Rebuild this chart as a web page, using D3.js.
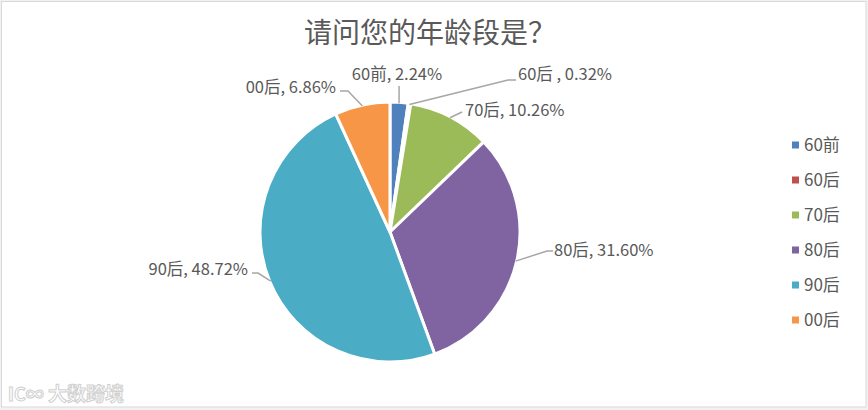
<!DOCTYPE html>
<html>
<head>
<meta charset="utf-8">
<script src="https://cdn.jsdelivr.net/npm/d3@7"></script>
<style>
  html, body { margin: 0; padding: 0; background: #f2f2f2; }
  svg { display: block; }
  text { font-family: "Noto Sans CJK SC", "Open Sans", sans-serif; fill: #595959; }
</style>
</head>
<body>
<svg id="chart" width="868" height="410"></svg>
<script>
// Age-group share of respondents
const categories = ["60前", "60后", "70后", "80后", "90后", "00后"];
const shares = [2.24, 0.32, 10.26, 31.60, 48.72, 6.86];
const labelTexts = ["60前, 2.24%", "60后 , 0.32%", "70后, 10.26%", "80后, 31.60%", "90后, 48.72%", "00后, 6.86%"];
const colors = ["#4F81BD", "#C0504D", "#9BBB59", "#8064A2", "#4BACC6", "#F79646"];
const title = "请问您的年龄段是？";

const svg = d3.select("#chart");
const W = 868, H = 410;

// Frame
svg.append("rect").attr("x", 1.5).attr("y", 1.5).attr("width", W - 3.5).attr("height", H - 4.5)
  .attr("fill", "#ffffff").attr("stroke", "#d9d9d9").attr("stroke-width", 1);

svg.append("text").attr("x", 430).attr("y", 43).attr("text-anchor", "middle")
  .style("font-size", "28px").text(title);

const cx = 390, cy = 232, R = 130;
const data = categories.map((c, i) => ({ name: c, value: shares[i], label: labelTexts[i], color: colors[i] }));

const pie = d3.pie().value(d => d.value).sort(null);
const arcs = pie(data);
const arc = d3.arc().innerRadius(0).outerRadius(R);

const g = svg.append("g").attr("transform", `translate(${cx},${cy})`);
g.selectAll("path.slice").data(arcs).join("path")
  .attr("class", "slice")
  .attr("d", arc)
  .attr("fill", d => d.data.color)
  .attr("stroke", "#ffffff")
  .attr("stroke-width", 3)
  .attr("stroke-linejoin", "round");

// Data-label placement: anchor, position and leader elbow for each slice
const labelLayout = [
  { x: 397, y: 80, anchor: "middle", elbow: null, end: [0, -146] },
  { x: 518, y: 80, anchor: "start", elbow: [118, -152], end: [126, -152] },
  { x: 465, y: 116, anchor: "start", elbow: null, end: [72, -120] },
  { x: 554, y: 256, anchor: "start", elbow: [157, 19], end: [163, 19] },
  { x: 248, y: 275, anchor: "end", elbow: [-132, 41], end: [-138, 41] },
  { x: 336, y: 93, anchor: "end", elbow: [-42, -141], end: [-50, -141] }
];

const pointOnRim = (d, r) => {
  const a = (d.startAngle + d.endAngle) / 2;
  return [r * Math.sin(a), -r * Math.cos(a)];
};

arcs.forEach((d, i) => {
  const L = labelLayout[i];
  const p0 = pointOnRim(d, R - 1);
  let pts;
  if (i === 0) pts = [p0, [p0[0], L.end[1]]];
  else if (L.elbow) pts = [p0, L.elbow, L.end];
  else pts = [p0, L.end];
  g.append("path")
    .attr("d", d3.line()(pts))
    .attr("fill", "none")
    .attr("stroke", "#a6a6a6")
    .attr("stroke-width", 1.5);
  svg.append("text")
    .attr("x", L.x).attr("y", L.y)
    .attr("text-anchor", L.anchor)
    .style("font-size", "16.5px")
    .text(d.data.label);
});

// Legend
const legend = svg.append("g").attr("transform", "translate(792,145)");
const items = legend.selectAll("g").data(data).join("g")
  .attr("transform", (d, i) => `translate(0,${i * 35})`);
items.append("rect").attr("x", 0).attr("y", -3.5).attr("width", 7).attr("height", 7).attr("fill", d => d.color);
items.append("text").attr("x", 12).attr("y", 6).style("font-size", "17px").text(d => d.name);

// Watermark
const wm = svg.append("g").attr("transform", "translate(8,401)");
wm.append("text").attr("x", 0).attr("y", 0)
  .style("font-size", "18px").style("font-weight", "bold")
  .style("fill", "#ffffff").attr("stroke", "#d0d0d0").attr("stroke-width", 1)
  .text("IC∞");
wm.append("text").attr("x", 40).attr("y", 0)
  .style("font-size", "19px").style("font-weight", "bold")
  .style("fill", "#ffffff").attr("stroke", "#d0d0d0").attr("stroke-width", 1)
  .text("大数跨境");
</script>
</body>
</html>
